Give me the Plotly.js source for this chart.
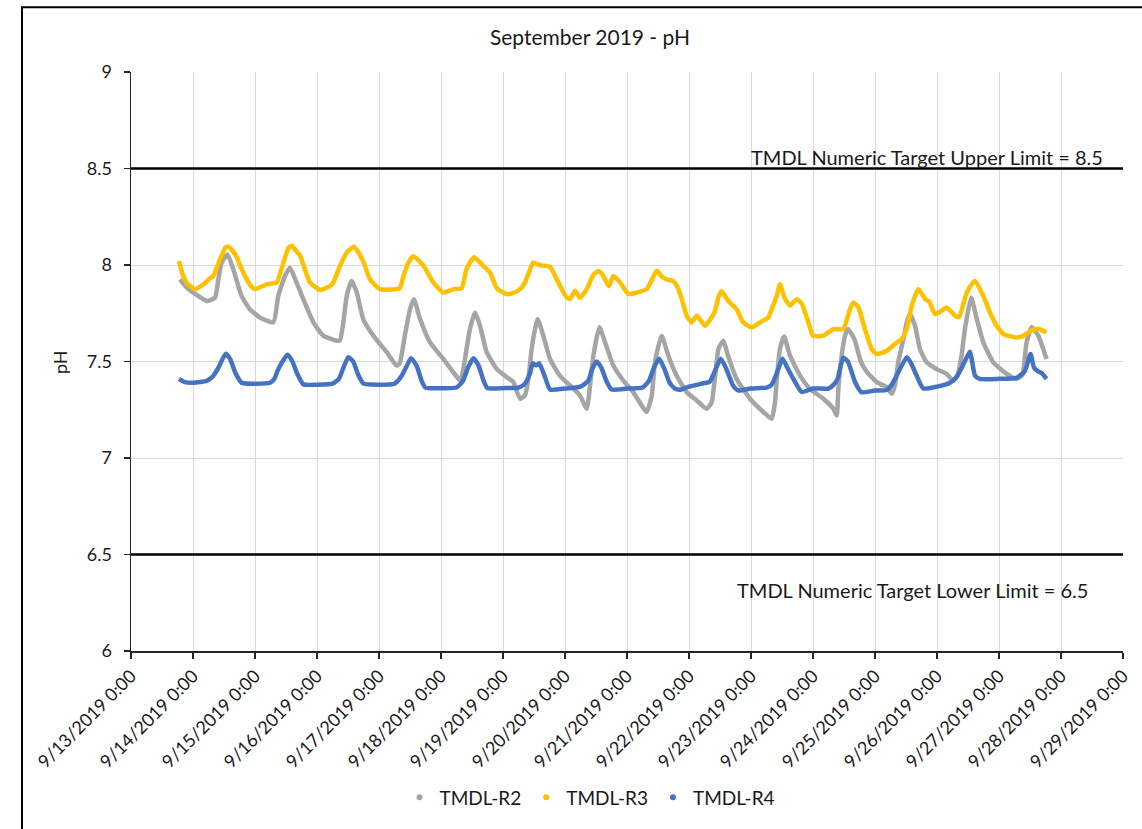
<!DOCTYPE html>
<html>
<head>
<meta charset="utf-8">
<script src="https://cdn.plot.ly/plotly-3.0.1.min.js"></script>
<style>
  html, body { margin: 0; padding: 0; background: #ffffff; }
  #chart { width: 1142px; height: 829px; }
</style>
</head>
<body>
<div id="chart"></div>
<script>
// ---------------- DATA ----------------
// Times are hours after 9/13/2019 0:00
const seriesNames = ['TMDL-R2', 'TMDL-R3', 'TMDL-R4'];

const r2Hours = [19, 21.6, 24.1, 29.3, 32.5, 33.8, 35.1, 37.3, 39.6, 42.8, 46, 49.9, 55.1, 57, 59.6, 61.5, 63.6, 66.7, 70.6, 74.4, 79.6, 80.9, 82.2, 83.5, 85.4, 87.4, 89.9, 93.8, 99, 102.8, 104, 106, 108, 109.5, 111.9, 115.7, 120.9, 124.8, 127.4, 128.5, 129.9, 131.2, 133.2, 135.1, 137.7, 141.6, 145.4, 148, 150.6, 152.5, 153.8, 155.1, 156.4, 157.4, 159.6, 162.2, 166, 170.6, 173.8, 176.4, 177.7, 179, 181.3, 183.5, 186.7, 190.6, 194.4, 197.7, 199.6, 201.6, 202.8, 205.4, 208, 211.2, 215.1, 219, 222.8, 224.8, 226, 227.4, 229.3, 231.1, 234.4, 239.6, 244.8, 248, 249.3, 250, 251.2, 252.8, 255.1, 259, 262.8, 268, 271.9, 273.2, 273.8, 275.1, 276.4, 277.5, 280, 282.6, 285, 288.7, 292.6, 294.5, 295.7, 297, 299, 300.3, 301.5, 303.5, 305.4, 308, 311.8, 315.7, 318.3, 320, 321.5, 322.8, 325.2, 327.4, 329.9, 333.8, 339, 342.8, 345, 346.7, 348.7, 351.2, 354.4];
const r2Values = [7.926, 7.883, 7.857, 7.814, 7.83, 7.926, 8.012, 8.055, 7.978, 7.84, 7.771, 7.728, 7.703, 7.84, 7.943, 7.986, 7.926, 7.823, 7.703, 7.634, 7.608, 7.61, 7.703, 7.84, 7.917, 7.857, 7.72, 7.634, 7.548, 7.479, 7.49, 7.634, 7.771, 7.823, 7.72, 7.6, 7.513, 7.444, 7.401, 7.45, 7.565, 7.668, 7.754, 7.685, 7.548, 7.461, 7.419, 7.393, 7.307, 7.324, 7.41, 7.565, 7.668, 7.72, 7.634, 7.513, 7.427, 7.367, 7.324, 7.255, 7.376, 7.53, 7.677, 7.6, 7.479, 7.401, 7.341, 7.272, 7.238, 7.324, 7.496, 7.634, 7.53, 7.427, 7.341, 7.298, 7.255, 7.29, 7.41, 7.565, 7.608, 7.53, 7.41, 7.307, 7.238, 7.203, 7.29, 7.41, 7.565, 7.63, 7.53, 7.427, 7.358, 7.307, 7.255, 7.22, 7.358, 7.53, 7.634, 7.668, 7.617, 7.496, 7.444, 7.393, 7.367, 7.333, 7.376, 7.496, 7.617, 7.703, 7.746, 7.685, 7.565, 7.496, 7.461, 7.436, 7.4, 7.43, 7.53, 7.668, 7.832, 7.72, 7.6, 7.496, 7.436, 7.41, 7.43, 7.6, 7.677, 7.634, 7.513];

const r3Hours = [18.6, 20, 21.6, 24.8, 28, 30.5, 31.9, 33, 34.5, 36.5, 37.7, 39.5, 40.9, 42.8, 44.8, 46.5, 48, 52.5, 56.4, 57.8, 59, 61, 62.2, 63.5, 65.4, 67.5, 69.3, 73.2, 77, 78.3, 80.9, 83.5, 86.3, 89.9, 92.5, 96.4, 104, 105.4, 107.3, 109.3, 113.2, 117, 120.9, 124.8, 128, 129.9, 132.8, 136.4, 139, 141.6, 145.4, 148, 150.6, 152.5, 154, 155.7, 158, 162.2, 165.4, 168.6, 170, 171.9, 173.8, 176.4, 179, 180.9, 182.5, 185, 186.7, 189.3, 192.5, 195.7, 199.6, 201.5, 203.5, 205.5, 207.4, 209.9, 211.9, 213.2, 215.1, 217, 219, 222.2, 224.8, 226, 227.4, 228.6, 231.1, 234.4, 237, 240.2, 243.5, 246.7, 248, 250, 251.2, 253, 255.1, 257.7, 259.6, 262.2, 264, 268, 271.9, 275.7, 278.3, 279.6, 281.6, 284.1, 286.7, 288.7, 292.6, 295.7, 298.3, 300.3, 302.2, 304.8, 307.4, 309, 311.2, 313.5, 315.7, 319, 320.5, 323.5, 325.4, 326.7, 329.9, 332.5, 335.1, 337.7, 342.8, 345, 348.5, 351.1, 354.4];
const r3Values = [8.02, 7.95, 7.907, 7.875, 7.9, 7.93, 7.943, 7.98, 8.03, 8.09, 8.095, 8.07, 8.04, 7.98, 7.926, 7.89, 7.875, 7.9, 7.909, 7.96, 8.012, 8.09, 8.1, 8.08, 8.05, 7.97, 7.91, 7.871, 7.89, 7.909, 7.995, 8.064, 8.095, 8.02, 7.926, 7.875, 7.88, 7.94, 8.01, 8.045, 7.997, 7.91, 7.857, 7.875, 7.88, 7.98, 8.04, 7.995, 7.96, 7.88, 7.849, 7.855, 7.875, 7.909, 7.96, 8.012, 8.0, 7.99, 7.91, 7.832, 7.825, 7.866, 7.83, 7.875, 7.95, 7.969, 7.95, 7.89, 7.943, 7.91, 7.85, 7.857, 7.875, 7.92, 7.97, 7.94, 7.925, 7.917, 7.875, 7.823, 7.737, 7.703, 7.737, 7.685, 7.73, 7.76, 7.832, 7.865, 7.815, 7.771, 7.703, 7.677, 7.703, 7.728, 7.771, 7.84, 7.9, 7.83, 7.79, 7.823, 7.8, 7.703, 7.634, 7.634, 7.668, 7.668, 7.771, 7.806, 7.78, 7.668, 7.565, 7.539, 7.556, 7.591, 7.617, 7.668, 7.788, 7.875, 7.823, 7.81, 7.746, 7.76, 7.78, 7.737, 7.73, 7.857, 7.9, 7.917, 7.84, 7.754, 7.685, 7.642, 7.625, 7.63, 7.66, 7.67, 7.651];

const r4Hours = [18.6, 20.5, 24, 29.3, 31.5, 33.5, 36.7, 38.5, 40.3, 42.8, 48, 53.8, 55.5, 57, 60.6, 62.5, 64.1, 66.7, 72, 78, 80.5, 82, 84.1, 86, 88, 90, 96, 102, 104.5, 106.5, 108.4, 110.5, 112.5, 114, 120, 126, 128.5, 130.5, 132.5, 134.5, 136.5, 138, 144, 150, 152.5, 154.5, 155.5, 156.8, 158, 160, 162.2, 168, 174, 177, 178.5, 180.2, 182, 184, 186, 192, 198, 200.5, 202.5, 204.5, 206.5, 208.5, 210.5, 212.5, 216, 221.5, 224, 226, 228.3, 230.5, 233, 235, 240, 246, 248, 250, 252.2, 254, 256.4, 259.6, 264, 270, 272, 273.5, 275.7, 277.5, 280.3, 282.8, 288, 292.5, 294.5, 296.4, 300.3, 302, 304.1, 306.7, 312, 317, 319.6, 322, 324.8, 325.6, 326.7, 328.5, 336, 342.8, 346, 348.2, 349.5, 351, 352.5, 354.4];
const r4Values = [7.41, 7.395, 7.39, 7.4, 7.42, 7.46, 7.54, 7.51, 7.444, 7.39, 7.385, 7.39, 7.41, 7.46, 7.535, 7.5, 7.444, 7.382, 7.38, 7.385, 7.41, 7.46, 7.522, 7.5, 7.43, 7.385, 7.38, 7.385, 7.42, 7.47, 7.517, 7.48, 7.4, 7.365, 7.362, 7.365, 7.4, 7.47, 7.517, 7.48, 7.4, 7.362, 7.362, 7.365, 7.385, 7.44, 7.49, 7.48, 7.49, 7.43, 7.355, 7.36, 7.37, 7.4, 7.46, 7.5, 7.47, 7.4, 7.355, 7.36, 7.365, 7.4, 7.47, 7.514, 7.46, 7.39, 7.36, 7.354, 7.37, 7.387, 7.395, 7.45, 7.514, 7.46, 7.377, 7.35, 7.36, 7.365, 7.38, 7.44, 7.514, 7.47, 7.41, 7.342, 7.36, 7.36, 7.38, 7.41, 7.52, 7.5, 7.393, 7.341, 7.35, 7.352, 7.38, 7.427, 7.522, 7.49, 7.427, 7.36, 7.37, 7.39, 7.42, 7.48, 7.551, 7.5, 7.427, 7.41, 7.41, 7.415, 7.45, 7.539, 7.47, 7.45, 7.44, 7.41];

const tickDates = ['2019-09-13', '2019-09-14', '2019-09-15', '2019-09-16', '2019-09-17', '2019-09-18', '2019-09-19', '2019-09-20', '2019-09-21', '2019-09-22', '2019-09-23', '2019-09-24', '2019-09-25', '2019-09-26', '2019-09-27', '2019-09-28', '2019-09-29'];
const tickLabels = ['9/13/2019 0:00', '9/14/2019 0:00', '9/15/2019 0:00', '9/16/2019 0:00', '9/17/2019 0:00', '9/18/2019 0:00', '9/19/2019 0:00', '9/20/2019 0:00', '9/21/2019 0:00', '9/22/2019 0:00', '9/23/2019 0:00', '9/24/2019 0:00', '9/25/2019 0:00', '9/26/2019 0:00', '9/27/2019 0:00', '9/28/2019 0:00', '9/29/2019 0:00'];

const upperLimit = 8.5;
const lowerLimit = 6.5;
const upperLabel = 'TMDL Numeric Target Upper Limit = 8.5';
const lowerLabel = 'TMDL Numeric Target Lower Limit = 6.5';
const chartTitle = 'September 2019 - pH';
const yTitle = 'pH';

// ---------------- STYLE ----------------
const colors = ['#A5A5A5', '#FFC000', '#4472C4'];
const FONT = 'Lato, "Open Sans", sans-serif';
const TEXT = '#1a1a1a';
const W = 1142, H = 829;
const PL = 131, PR = 1123, PT = 72, PB = 653;
const px2x = p => (p - PL) / (PR - PL);
const px2y = p => (PB - p) / (PB - PT);

function hoursToStamp(h) {
  let day = 13 + Math.floor(h / 24);
  let rem = h - 24 * Math.floor(h / 24);
  let hh = Math.floor(rem);
  let mm = Math.round((rem - hh) * 60);
  if (mm === 60) { mm = 0; hh += 1; }
  if (hh === 24) { hh = 0; day += 1; }
  const p = n => String(n).padStart(2, '0');
  return '2019-09-' + p(day) + ' ' + p(hh) + ':' + p(mm);
}

const hoursList = [r2Hours, r3Hours, r4Hours];
const valuesList = [r2Values, r3Values, r4Values];

const traces = [];
for (let i = 0; i < 3; i++) {
  traces.push({
    type: 'scatter', mode: 'lines',
    x: hoursList[i].map(hoursToStamp), y: valuesList[i],
    line: { color: colors[i], width: 4.5, shape: 'spline', smoothing: 0.5 },
    showlegend: false, hoverinfo: 'skip'
  });
}
for (let i = 0; i < 3; i++) {
  traces.push({
    type: 'scatter', mode: 'markers', x: [null], y: [null],
    name: seriesNames[i], marker: { color: colors[i], size: 6 },
    showlegend: true
  });
}

const layout = {
  width: W, height: H,
  margin: { l: PL, r: W - PR, t: PT, b: H - PB, pad: 0 },
  paper_bgcolor: '#ffffff', plot_bgcolor: '#ffffff',
  font: { family: FONT, size: 18, color: TEXT },
  title: {
    text: chartTitle, font: { family: FONT, size: 21, color: TEXT },
    xref: 'paper', x: px2x(590), xanchor: 'center',
    yref: 'container', y: 1 - 38 / H, yanchor: 'middle'
  },
  xaxis: {
    type: 'date',
    range: [tickDates[0], tickDates[tickDates.length - 1]],
    tickmode: 'array', tickvals: tickDates, ticktext: tickLabels,
    tickangle: -45, tickfont: { family: FONT, size: 18, color: TEXT },
    showgrid: true, gridcolor: '#d9d9d9', gridwidth: 1,
    showline: true, linecolor: '#262626', linewidth: 1.5,
    ticks: 'outside', ticklen: 6, tickcolor: '#262626', tickwidth: 1.5,
    zeroline: false, fixedrange: true
  },
  yaxis: {
    range: [6, 9], tickmode: 'linear', tick0: 6, dtick: 0.5,
    tickfont: { family: FONT, size: 18, color: TEXT },
    ticklabelstandoff: 8,
    showgrid: true, gridcolor: '#d9d9d9', gridwidth: 1,
    showline: true, linecolor: '#262626', linewidth: 1.5,
    ticks: 'outside', ticklen: 6, tickcolor: '#262626', tickwidth: 1.5,
    zeroline: false, fixedrange: true
  },
  showlegend: true,
  legend: {
    orientation: 'h', x: px2x(590), xanchor: 'center',
    y: px2y(800), yanchor: 'middle',
    font: { family: FONT, size: 19, color: TEXT },
    bgcolor: 'rgba(0,0,0,0)', itemclick: false, itemdoubleclick: false
  },
  shapes: [
    { type: 'line', xref: 'paper', x0: 0, x1: 1, yref: 'y', y0: upperLimit, y1: upperLimit,
      line: { color: '#000000', width: 2.5 } },
    { type: 'line', xref: 'paper', x0: 0, x1: 1, yref: 'y', y0: lowerLimit, y1: lowerLimit,
      line: { color: '#000000', width: 2.5 } },
    { type: 'path', xref: 'paper', yref: 'paper',
      path: 'M ' + px2x(22) + ',' + px2y(840) + ' L ' + px2x(22) + ',' + px2y(7) + ' L ' + px2x(1160) + ',' + px2y(7),
      line: { color: '#000000', width: 2 } }
  ],
  annotations: [
    { text: upperLabel, xref: 'paper', x: px2x(1105), xanchor: 'right',
      yref: 'paper', y: px2y(157), yanchor: 'middle', showarrow: false,
      font: { family: FONT, size: 20, color: TEXT } },
    { text: lowerLabel, xref: 'paper', x: px2x(1090), xanchor: 'right',
      yref: 'paper', y: px2y(592), yanchor: 'middle', showarrow: false,
      font: { family: FONT, size: 20, color: TEXT } },
    { text: yTitle, xref: 'paper', x: px2x(60), xanchor: 'center',
      yref: 'paper', y: px2y(363), yanchor: 'middle', showarrow: false, textangle: -90,
      font: { family: FONT, size: 18, color: TEXT } }
  ]
};

Plotly.newPlot('chart', traces, layout, { staticPlot: true, displayModeBar: false });
</script>
</body>
</html>
